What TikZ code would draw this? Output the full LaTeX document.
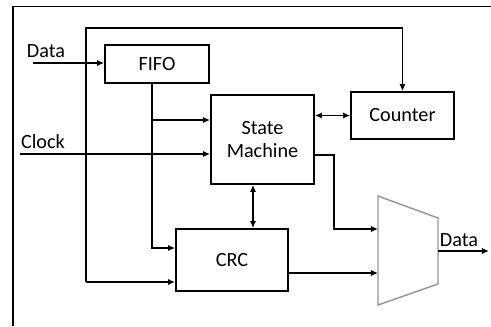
\documentclass[tikz,border=0pt]{standalone}
\usepackage{fontspec}
\setmainfont{Carlito}
\usetikzlibrary{arrows.meta, positioning}

\begin{document}
\begin{tikzpicture}[x=0.02cm, y=-0.02cm, font=\fontsize{11.5}{13}\selectfont,
    block/.style={draw, line width=1.1pt, inner sep=0pt, align=center},
    link/.style={line width=1.1pt},
    arr/.style={link, -{Latex[length=4pt, width=3.6pt]}},
    darr/.style={link, {Latex[length=4pt, width=3.6pt]}-{Latex[length=4pt, width=3.6pt]}},
    muxline/.style={draw=gray!85, line width=0.8pt}]
  \useasboundingbox (0,0) rectangle (491,326);

  % Frame
  \draw[line width=0.7pt] (491,6.5) -- (13,6.5) -- (13,326);

  % Blocks
  \node[block, minimum width=2.08cm, minimum height=0.76cm] (fifo) at (157,64) {FIFO};
  \node[block, minimum width=2.06cm, minimum height=1.78cm] (sm) at (262.5,139.5) {State\\Machine};
  \node[block, minimum width=2.06cm, minimum height=0.94cm] (counter) at (402.5,115.5) {Counter};
  \node[block, minimum width=2.24cm, minimum height=1.24cm] (crc) at (232,260) {CRC};

  % Multiplexer
  \draw[muxline] (378,196) -- (438,218) -- (438,284) -- (378,305) -- cycle;
  \coordinate (muxIn1) at (378,229);
  \coordinate (muxIn2) at (378,273);
  \coordinate (muxOut) at (438,251);

  % Inputs and outputs
  \coordinate (dataIn) at (33,63);
  \coordinate (clkIn) at (20,154);
  \coordinate (dataOut) at (489,251);
  \node (dataLbl) at (46,51) {Data};
  \node (clkLbl) at (43,142) {Clock};
  \node (outLbl) at (459,240) {Data};

  % Taps and bends
  \coordinate (loopTop) at (86,28);
  \coordinate (loopBot) at (86,282);
  \coordinate (fifoTap) at (152,83);
  \coordinate (fifoBr) at (152,120);
  \coordinate (fifoBot) at (152,248);
  \coordinate (bus) at (253,0);
  \coordinate (smOut) at (314,155);

  % Connections
  \draw[arr] (dataIn) -- (dataIn -| fifo.west);
  \draw[arr] (loopBot) -- (loopTop) -| (counter.north);
  \draw[arr] (loopBot) -- (loopBot -| crc.west);
  \draw[arr] (fifoTap) -- (fifoBot) -- (fifoBot -| crc.west);
  \draw[arr] (fifoBr) -- (fifoBr -| sm.west);
  \draw[arr] (clkIn) -- (clkIn -| sm.west);
  \draw[darr] (sm.east |- counter.west) -- (counter.west);
  \draw[darr] (bus |- sm.south) -- (bus |- crc.north);
  \draw[arr] (smOut) -- (334,155) |- (muxIn1);
  \draw[arr] (crc.east |- muxIn2) -- (muxIn2);
  \draw[arr] (muxOut) -- (dataOut);
\end{tikzpicture}
\end{document}
